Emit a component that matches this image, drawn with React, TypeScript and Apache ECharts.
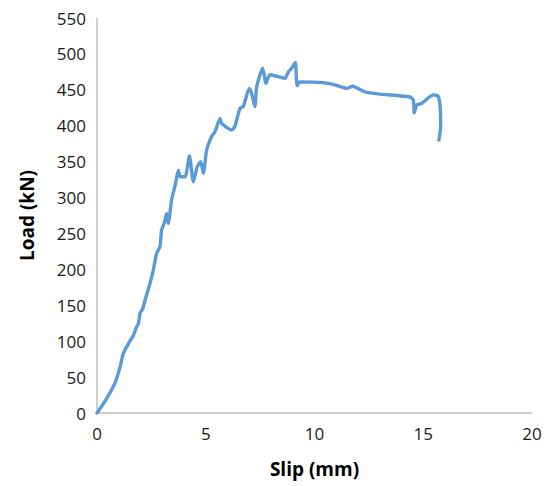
import React, { useEffect, useRef } from "react";
import * as echarts from "echarts";

// Load–slip response, slip in mm, load in kN
const slip = [
  0, 0.4, 0.83, 1.06, 1.21, 1.45, 1.67, 1.82, 1.9, 1.98, 2.1, 2.21, 2.44, 2.59, 2.74, 2.9,
  2.97, 3.1, 3.2, 3.28, 3.43, 3.6, 3.74, 3.82, 4.05, 4.25, 4.43, 4.61, 4.77, 4.89, 5.04,
  5.27, 5.43, 5.66, 5.73, 6.19, 6.34, 6.57, 6.73, 7.0, 7.11, 7.26, 7.34, 7.62, 7.77, 7.95,
  8.64, 8.8, 8.95, 9.12, 9.2, 9.33, 10.4, 10.94, 11.48, 11.75, 12.32, 13.0, 14.39, 14.54,
  14.59, 14.7, 14.93, 15.16, 15.46, 15.69, 15.78, 15.8, 15.72,
];
const load = [
  0, 18, 42, 64, 83, 97, 108, 120, 124, 139, 145, 157, 181, 199, 222, 232,
  255, 265, 278, 264, 297, 318, 338, 329, 329, 358, 322, 343, 350, 334, 366,
  385, 392, 410, 403, 394, 399, 424, 427, 452, 445, 427, 454, 480, 459, 471,
  466, 475, 480, 488, 456, 461, 460, 457, 452, 455, 447, 444, 440, 436,
  418, 429, 431, 437, 443, 441, 425, 399, 380,
];

const FONT = "'Open Sans', Lato, sans-serif";

export default function App() {
  const ref = useRef<HTMLDivElement>(null);

  useEffect(() => {
    if (!ref.current) return;
    const chart = echarts.init(ref.current, undefined, { renderer: "svg" });
    const points = slip.map((s, i) => [s, load[i]]);
    chart.setOption({
      animation: false,
      backgroundColor: "#ffffff",
      grid: { left: 97, right: 20, top: 18, bottom: 73 },
      xAxis: {
        type: "value",
        min: 0,
        max: 20,
        interval: 5,
        name: "Slip (mm)",
        nameLocation: "middle",
        nameGap: 46,
        nameTextStyle: { fontFamily: FONT, fontSize: 19, fontWeight: "bold", color: "#000" },
        axisLine: { show: true, lineStyle: { color: "#bfbfbf", width: 1.5 } },
        axisTick: { show: false },
        splitLine: { show: false },
        axisLabel: { fontFamily: FONT, fontSize: 17, color: "#1a1a1a", margin: 12 },
      },
      yAxis: {
        type: "value",
        min: 0,
        max: 550,
        interval: 50,
        name: "Load (kN)",
        nameLocation: "middle",
        nameGap: 61,
        nameTextStyle: { fontFamily: FONT, fontSize: 19, fontWeight: "bold", color: "#000" },
        axisLine: { show: true, lineStyle: { color: "#bfbfbf", width: 1.5 } },
        axisTick: { show: false },
        splitLine: { show: false },
        axisLabel: { fontFamily: FONT, fontSize: 17, color: "#1a1a1a", margin: 11 },
      },
      series: [
        {
          type: "line",
          data: points,
          showSymbol: false,
          smooth: 0.2,
          lineStyle: { color: "#5b9bd5", width: 3.4, join: "round", cap: "round" },
        },
      ],
    });
    return () => chart.dispose();
  }, []);

  return (
    <div
      ref={ref}
      style={{ position: "fixed", left: 0, top: 0, width: 552, height: 486 }}
    />
  );
}
